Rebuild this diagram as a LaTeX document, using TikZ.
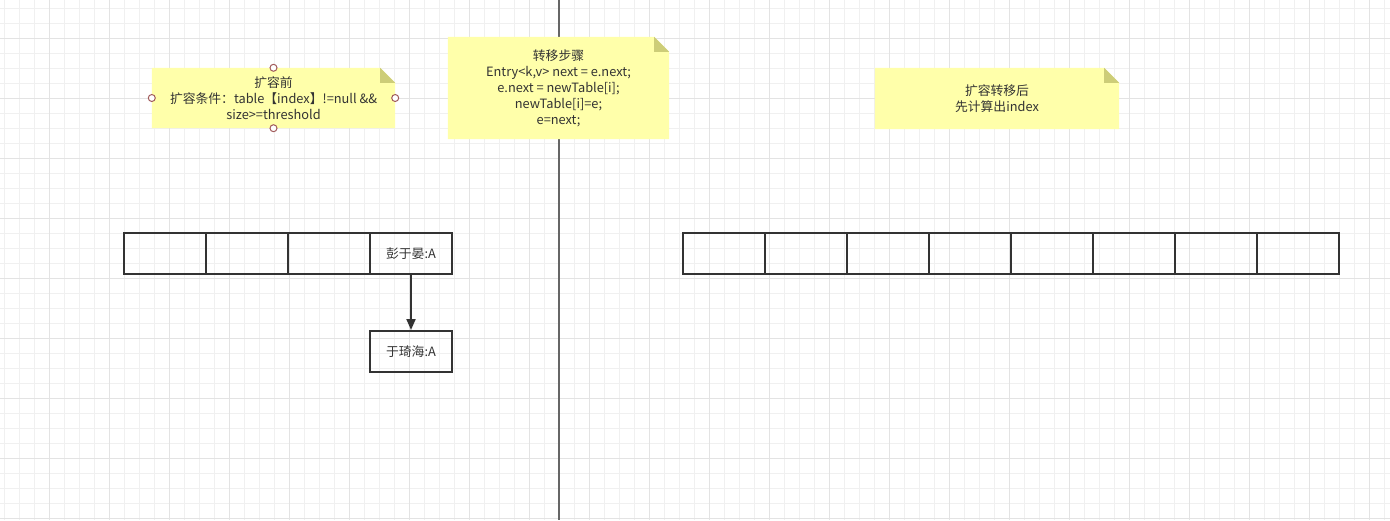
\documentclass[tikz,border=0pt]{standalone}
\usepackage{fontspec}
\setmainfont{Noto Sans CJK SC}
\usetikzlibrary{arrows.meta}

\definecolor{gridminor}{HTML}{F0F0F0}
\definecolor{gridmajor}{HTML}{E3E3E3}
\definecolor{notefill}{HTML}{FFFFAA}
\definecolor{notefold}{HTML}{CDCD78}
\definecolor{ink}{HTML}{333333}
\definecolor{divider}{HTML}{666666}
\definecolor{handle}{HTML}{A05A5A}

\pgfdeclarelayer{bg}
\pgfsetlayers{bg,main}

\tikzset{
  txt/.style={font=\fontsize{12.8}{16}\selectfont, text=ink, align=center},
  note/.style={txt, inner sep=0pt},
  cell/.style={txt, draw=ink, line width=2pt, minimum width=82pt,
               minimum height=41pt, inner sep=0pt},
  link/.style={draw=ink, line width=2pt,
               -{Triangle[length=11pt,width=9pt]}},
  grab/.style={draw=handle, fill=white, line width=1pt},
}

% note background with a folded top-right corner
\newcommand{\notebg}[1]{%
  \fill[notefill] (#1.south west) -- (#1.north west)
    -- ([xshift=-15pt]#1.north east) -- ([yshift=-15pt]#1.north east)
    -- (#1.south east) -- cycle;
  \fill[notefold] ([xshift=-15pt]#1.north east)
    -- ([xshift=-15pt,yshift=-15pt]#1.north east)
    -- ([yshift=-15pt]#1.north east) -- cycle;}

\begin{document}
\begin{tikzpicture}[x=1pt,y=-1pt]
\useasboundingbox (0,0) rectangle (1390,520);

% notes
\node[note, minimum width=243pt, minimum height=60pt] (pre) at (273.5,98)
  {扩容前\\扩容条件：table【index】!=null \&\&\\size>=threshold};
\node[note, minimum width=221pt, minimum height=102pt] (steps) at (558.5,88)
  {转移步骤\\Entry<k,v> next = e.next;\\e.next = newTable[i];\\newTable[i]=e;\\e=next;};
\node[note, minimum width=244pt, minimum height=61pt] (post) at (997,98.5)
  {扩容转移后\\先计算出index};

\begin{pgfonlayer}{bg}
  % background grid
  \foreach \x in {4,19,...,1390} \draw[gridminor, line width=1pt] (\x,0) -- (\x,520);
  \foreach \y in {8,23,...,520} \draw[gridminor, line width=1pt] (0,\y) -- (1390,\y);
  \foreach \x in {49,109,...,1390} \draw[gridmajor, line width=1pt] (\x,0) -- (\x,520);
  \foreach \y in {38,98,...,520} \draw[gridmajor, line width=1pt] (0,\y) -- (1390,\y);
  % divider between the two tables
  \coordinate (divtop) at (559,0);
  \coordinate (divbot) at (559,520);
  \draw[divider, line width=2pt] (divtop) -- (divbot);
  \notebg{pre}
  \notebg{steps}
  \notebg{post}
\end{pgfonlayer}

% selection handles on the first note
\foreach \a in {north,south,east,west}
  \draw[grab] (pre.\a) circle (3.5pt);

% old table
\node[cell] (l1) at (165,253.5) {};
\node[cell] (l2) at (247,253.5) {};
\node[cell] (l3) at (329,253.5) {};
\node[cell] (l4) at (411,253.5) {彭于晏:A};
\node[cell] (c1) at (411,351.5) {于琦海:A};
\draw[link] (l4.south) -- (c1.north);

% new table
\foreach \i in {0,...,7}
  \node[cell] (r\i) at (724+82*\i,253.5) {};

\end{tikzpicture}
\end{document}
